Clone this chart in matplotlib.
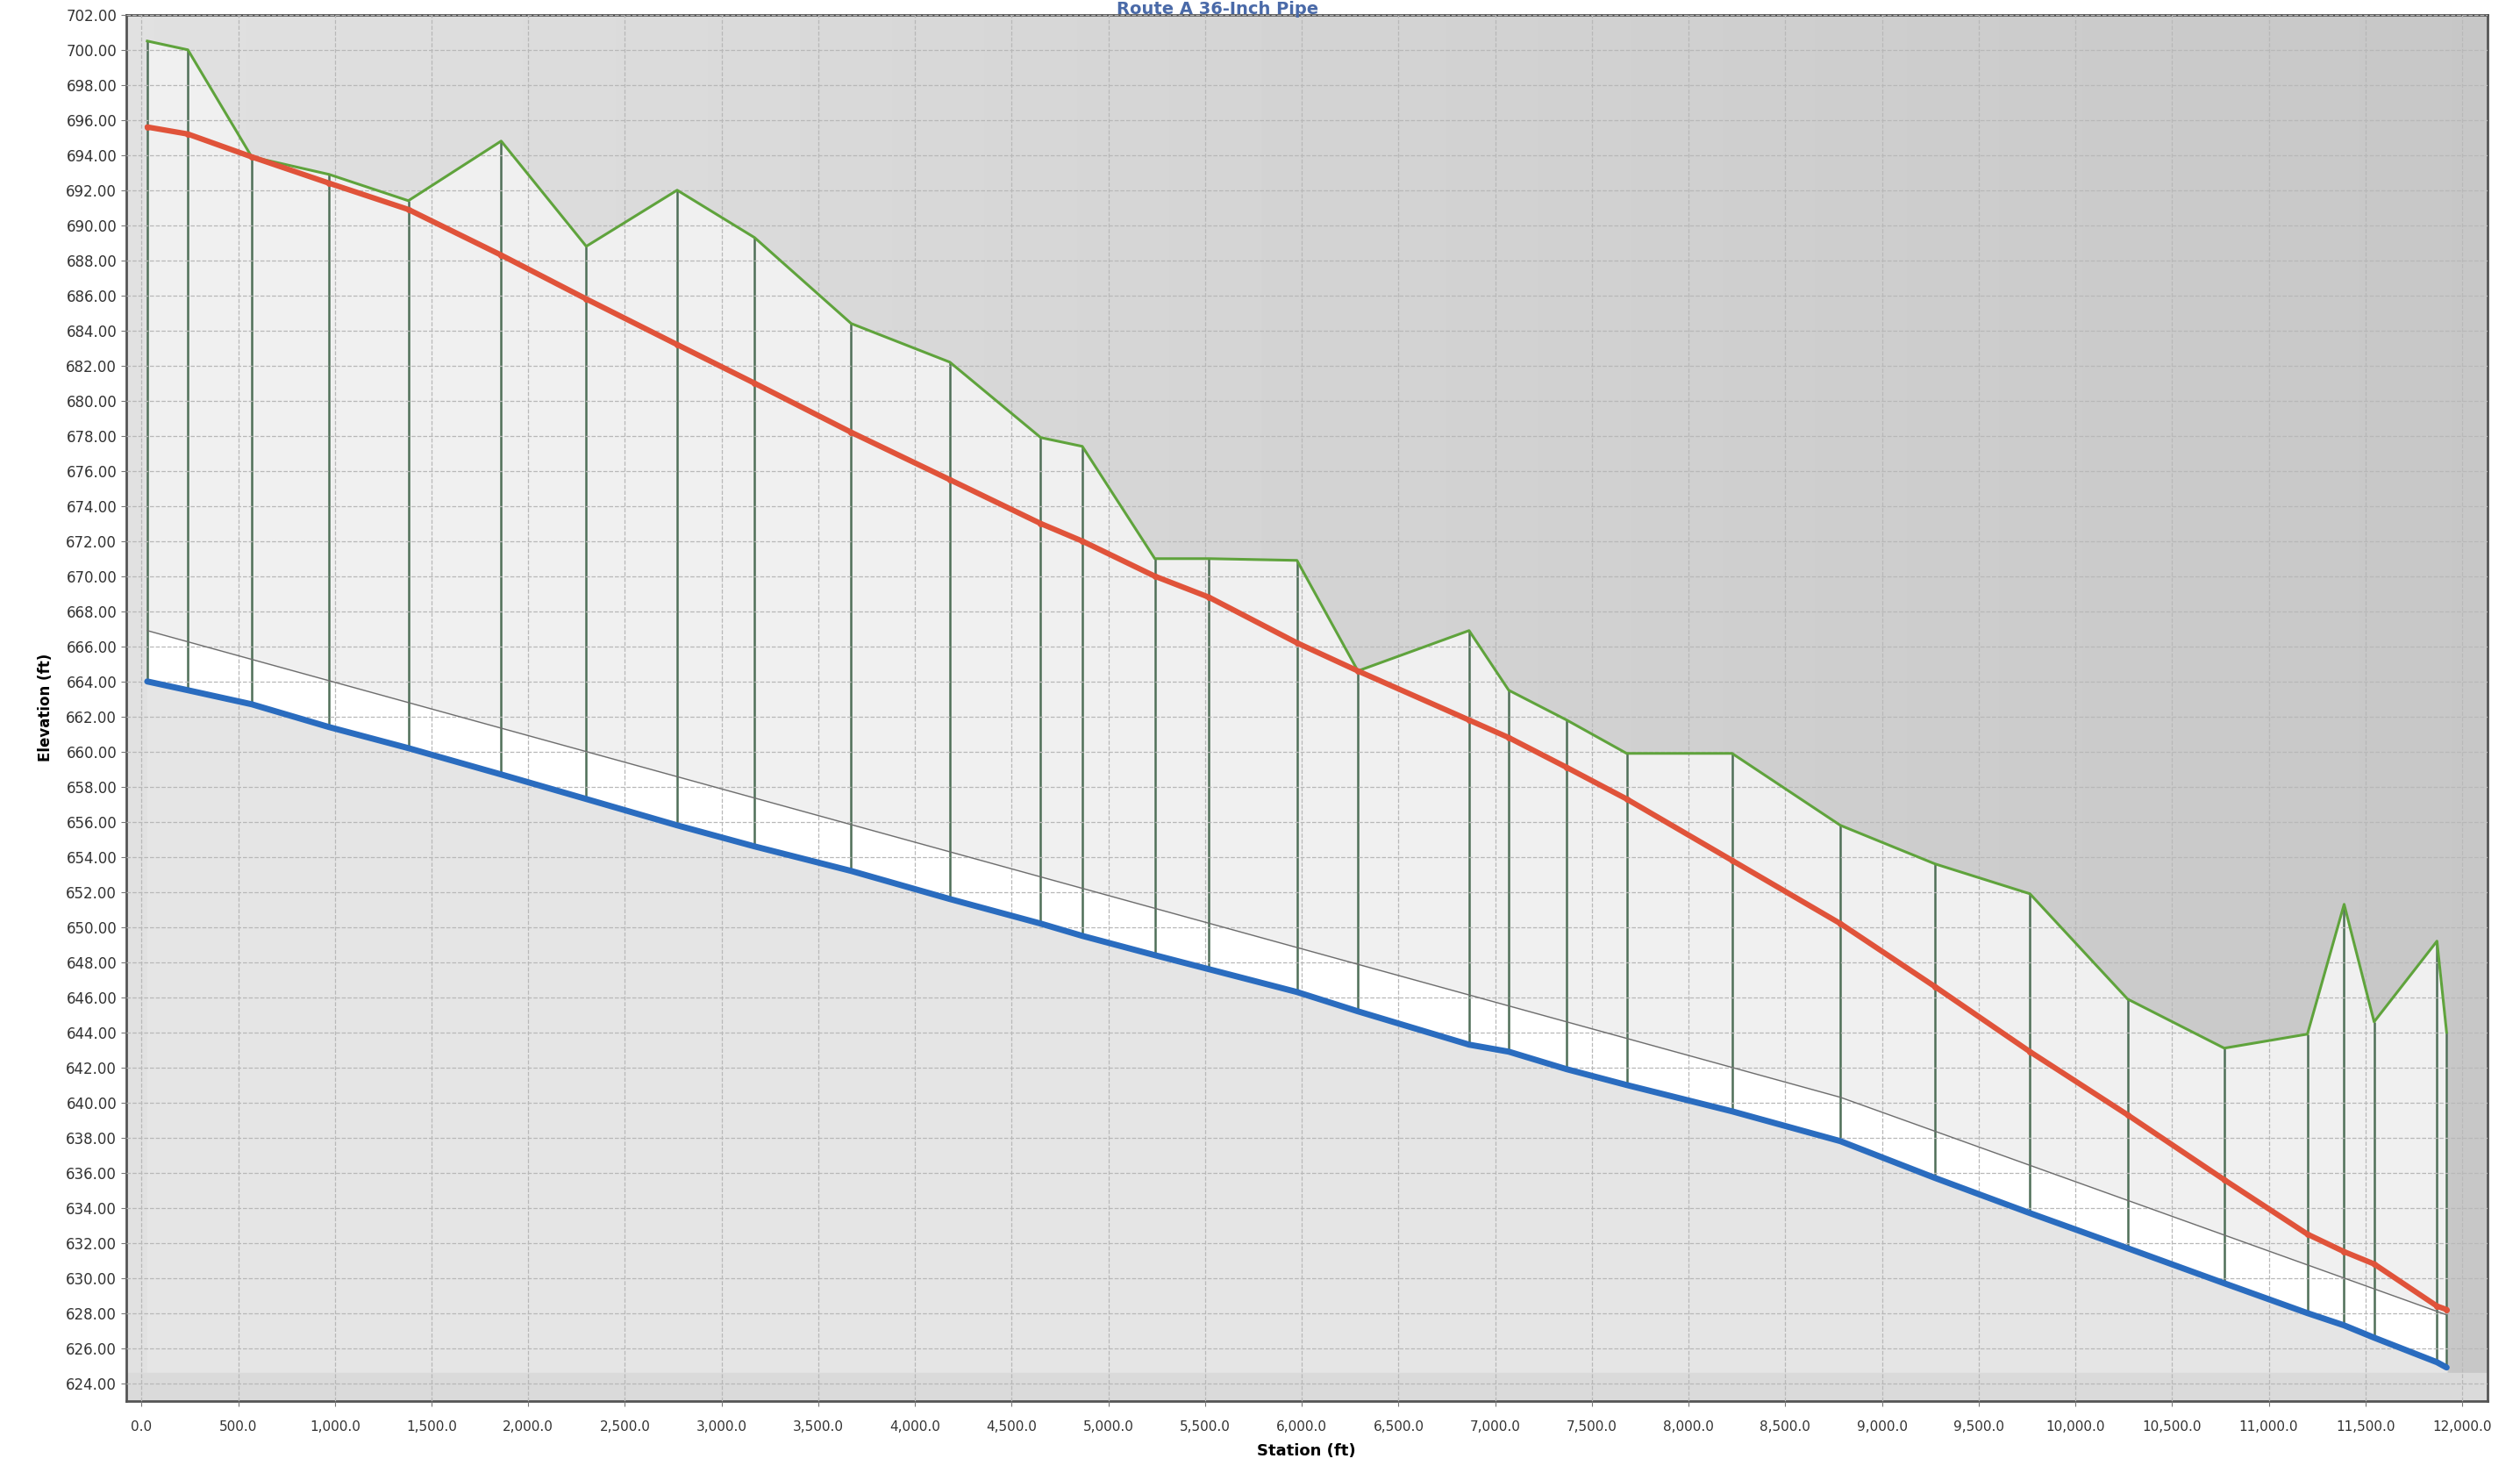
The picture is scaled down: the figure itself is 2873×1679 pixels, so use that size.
import matplotlib
matplotlib.use("Agg")
import matplotlib.pyplot as plt
import numpy as np

# stations along the route (ft)
stations = [30, 240, 570, 970, 1380, 1860, 2300, 2770, 3170, 3670, 4180, 4650,
            4865, 5240, 5520, 5975, 6290, 6865, 7070, 7370, 7680, 8225, 8785,
            9275, 9765, 10270, 10770, 11200, 11390, 11545, 11870, 11920]

# ground profile (ft)
ground = [700.5, 700.0, 693.9, 692.9, 691.4, 694.8, 688.8, 692.0, 689.3, 684.4,
          682.2, 677.9, 677.4, 671.0, 671.0, 670.9, 664.6, 666.9, 663.5, 661.8,
          659.9, 659.9, 655.8, 653.6, 651.9, 645.9, 643.1, 643.9, 651.3, 644.6,
          649.2, 644.0]

# hydraulic grade line (ft)
hgl = [695.6, 695.2, 693.9, 692.4, 690.9, 688.3, 685.8, 683.2, 681.0, 678.2,
       675.5, 673.0, 672.0, 670.0, 668.8, 666.2, 664.6, 661.8, 660.8, 659.1,
       657.3, 653.8, 650.2, 646.6, 642.9, 639.3, 635.6, 632.5, 631.5, 630.8,
       628.4, 628.2]

# pipe invert (ft)
invert = [664.0, 663.5, 662.7, 661.4, 660.2, 658.7, 657.3, 655.8, 654.6, 653.2,
          651.6, 650.2, 649.5, 648.4, 647.6, 646.3, 645.2, 643.3, 642.9, 641.9,
          641.0, 639.5, 637.8, 635.7, 633.7, 631.7, 629.7, 628.0, 627.3, 626.6,
          625.2, 624.9]

# pipe crown (thin line)
crown_st = [30, 8785, 11920]
crown = [666.9, 640.3, 627.9]

x_ticks = np.arange(0, 12001, 500)
y_ticks = np.arange(624, 703, 2)

fig = plt.figure(figsize=(28.73, 16.79), dpi=100)
ax = fig.add_axes([0.050, 0.049, 0.937, 0.941])

xmin, xmax, ymin, ymax = -80, 12130, 623, 702
st = np.array(stations)
crown_i = np.interp(st, crown_st, crown)

# scanned-looking grey background, lighter on the left
grad = np.linspace(0.88, 0.78, 256).reshape(1, -1)
ax.imshow(grad, cmap='gray', vmin=0, vmax=1, aspect='auto',
          extent=[xmin, xmax, ymin, ymax], zorder=0)
ax.fill_between(st, ymin, invert, color='#e5e5e5', zorder=0.6)
ax.fill_between([xmin, xmax], ymin, 624.6, color='#dadada', zorder=0.65)
ax.fill_between(st, invert, crown_i, color='white', zorder=1)
ax.fill_between(st, crown_i, ground, color='#f0f0f0', zorder=1)

ax.grid(True, linestyle='--', color='#b8b8b8', linewidth=0.9, zorder=1.5)
ax.set_axisbelow(False)

# verticals from ground down to invert
ax.vlines(st, invert, ground, color='#4f6f58', linewidth=1.8, zorder=2)

ax.plot(crown_st, crown, color='#6e6e6e', linewidth=1.0, zorder=3)
ax.plot(st, ground, color='#5fa33c', linewidth=2.2, zorder=4)
ax.plot(st, invert, color='#2a6cbf', linewidth=5, solid_capstyle='round', zorder=5)
ax.plot(st, hgl, color='#e0533a', linewidth=4.5, marker='o', markersize=4,
        solid_capstyle='round', zorder=6)

ax.set_xlim(xmin, xmax)
ax.set_ylim(ymin, ymax)
ax.set_xticks(x_ticks)
ax.set_xticklabels([f"{v:,.1f}" for v in x_ticks], fontsize=11, color='#333333')
ax.set_yticks(y_ticks)
ax.set_yticklabels([f"{v:.2f}" for v in y_ticks], fontsize=12, color='#333333')
ax.tick_params(axis='both', length=4, color='#777777')
ax.tick_params(axis='x', pad=12)

for s in ax.spines.values():
    s.set_color('#555555')
    s.set_linewidth(2)

ax.set_xlabel('Station (ft)', fontsize=13, fontweight='bold', labelpad=8)
ax.set_ylabel('Elevation (ft)', fontsize=12, fontweight='bold', labelpad=10)
fig.text(0.483, 0.9995, 'Route A 36-Inch Pipe', ha='center', va='top',
         fontsize=14, fontweight='bold', color='#4a6aa8')

fig.savefig('out.png', dpi=100)
